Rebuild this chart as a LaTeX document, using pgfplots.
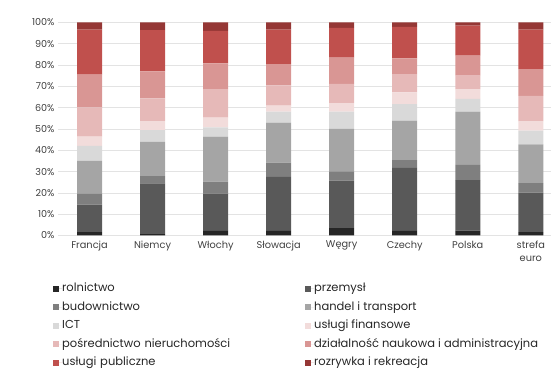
\documentclass[border=0pt]{standalone}
\usepackage{pgfplots}
\usepackage{pgfplotstable}
\pgfplotsset{compat=1.18}
\usepackage{fontspec}
\setmainfont{Poppins}

\definecolor{cRol}{HTML}{262626}
\definecolor{cPrz}{HTML}{595959}
\definecolor{cBud}{HTML}{7F7F7F}
\definecolor{cHan}{HTML}{A5A5A5}
\definecolor{cICT}{HTML}{D9D9D9}
\definecolor{cFin}{HTML}{F2DCDB}
\definecolor{cPos}{HTML}{E6B9B8}
\definecolor{cDzi}{HTML}{D99694}
\definecolor{cPub}{HTML}{C0504D}
\definecolor{cRoz}{HTML}{953735}
\definecolor{txt}{HTML}{404040}

% shares of value added by sector (%), one row per country
\pgfplotstableread{
x rol  prz  bud han  ict fin pos  dzi  pub  roz
0 1.6  12.9 5.0 15.5 7.1 4.3 13.7 15.4 21.2 3.3
1 0.7  23.8 3.4 16.0 5.6 4.2 10.7 12.6 19.4 3.6
2 2.2  17.5 5.6 21.1 4.4 4.5 13.4 12.1 15.3 3.9
3 2.2  25.3 6.7 18.8 5.2 2.8 9.5  9.9  16.3 3.3
4 3.5  22.3 4.3 20.0 8.0 4.1 9.0  12.3 14.0 2.5
5 2.2  29.5 3.7 18.5 7.8 5.5 8.6  7.4  14.7 2.1
6 2.3  23.7 7.2 25.0 6.0 4.5 6.3  9.4  14.1 1.5
7 1.6  18.5 4.5 18.2 6.4 4.5 11.8 12.6 18.6 3.3
}\datatable

\begin{document}
\begin{tikzpicture}[x=1pt,y=1pt]
\useasboundingbox (0,0) rectangle (551pt,369pt);
\begin{axis}[
  at={(58pt,133.5pt)}, anchor=south west,
  scale only axis,
  width=493pt, height=213pt,
  ybar stacked, bar width=25pt,
  xmin=-0.5, xmax=7.32,
  ymin=0, ymax=100,
  ytick={0,10,...,100},
  yticklabel={\pgfmathprintnumber{\tick}\%},
  xtick={0,...,7},
  xticklabels={Francja,Niemcy,W{ł}ochy,S{ł}owacja,W{ę}gry,Czechy,Polska,{strefa\\euro}},
  x tick label style={align=center, font=\fontsize{9.8}{12.5}\selectfont, text=txt, yshift=-2pt},
  y tick label style={font=\fontsize{9.6}{12}\selectfont, text=txt},
  /pgf/number format/assume math mode=true,
  ymajorgrids, grid style={draw=black!11, line width=0.6pt},
  axis line style={draw=none},
  major tick style={draw=none},
  legend columns=2,
  legend cell align=left,
  legend style={at={(axis description cs:0,0)}, anchor=north west,
    xshift=-5pt, yshift=-47.5pt,
    draw=none, fill=none,
    font=\fontsize{11.5}{13}\selectfont, text=black!85,
    nodes={text height=8.5pt, text depth=2.5pt, inner sep=0pt},
    /tikz/column 2/.append style={text width=243pt},
    row sep=7.5pt,
    inner sep=0pt},
  legend image code/.code={%
    \fill[#1] (0pt,-3pt) rectangle (6pt,3pt);
    \path (0pt,0pt) -- (9pt,0pt);},
  every axis plot/.append style={draw=none},
]
\addplot[fill=cRol] table[x=x,y=rol]{\datatable};
\addlegendentry{rolnictwo}
\addplot[fill=cPrz] table[x=x,y=prz]{\datatable};
\addlegendentry{przemysł}
\addplot[fill=cBud] table[x=x,y=bud]{\datatable};
\addlegendentry{budownictwo}
\addplot[fill=cHan] table[x=x,y=han]{\datatable};
\addlegendentry{handel i transport}
\addplot[fill=cICT] table[x=x,y=ict]{\datatable};
\addlegendentry{ICT}
\addplot[fill=cFin] table[x=x,y=fin]{\datatable};
\addlegendentry{usługi finansowe}
\addplot[fill=cPos] table[x=x,y=pos]{\datatable};
\addlegendentry{pośrednictwo nieruchomości}
\addplot[fill=cDzi] table[x=x,y=dzi]{\datatable};
\addlegendentry{działalność naukowa i administracyjna}
\addplot[fill=cPub] table[x=x,y=pub]{\datatable};
\addlegendentry{usługi publiczne}
\addplot[fill=cRoz] table[x=x,y=roz]{\datatable};
\addlegendentry{rozrywka i rekreacja}
\end{axis}
\end{tikzpicture}
\end{document}
